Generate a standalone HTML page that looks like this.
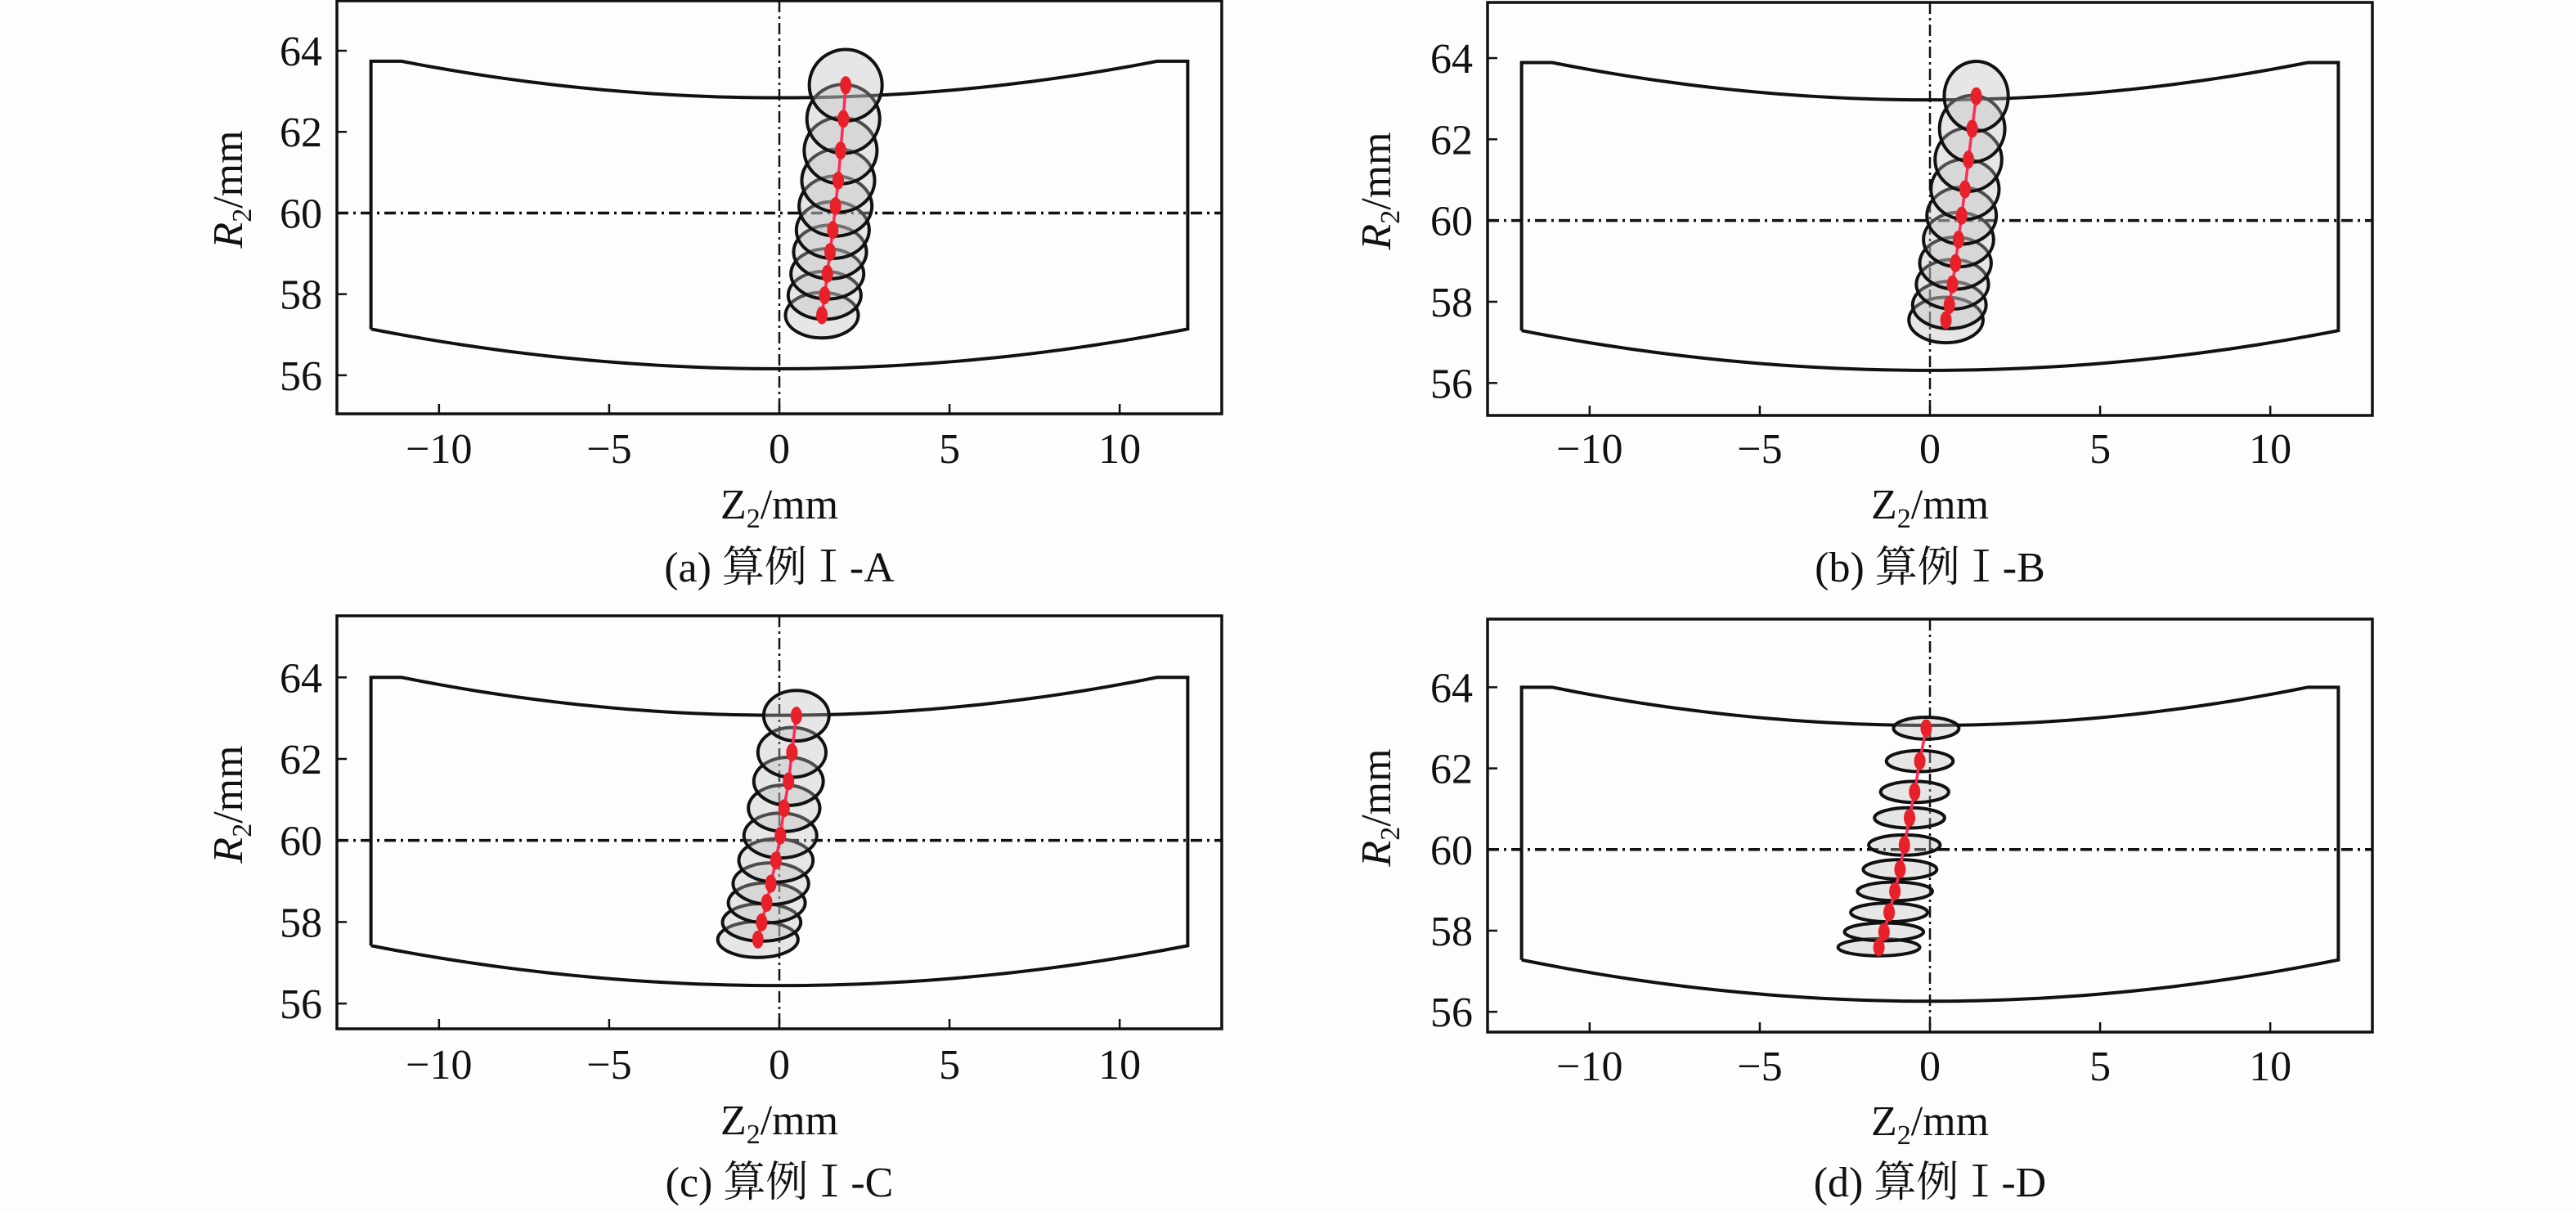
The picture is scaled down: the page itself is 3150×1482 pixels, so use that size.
<!DOCTYPE html>
<html><head><meta charset="utf-8">
<style>
html,body{margin:0;padding:0;background:#fdfdfd;}
svg{display:block;}
text{font-family:"Liberation Serif","Noto Serif CJK SC",serif;fill:#111;}
</style></head>
<body>
<svg id="fig" width="3150" height="1482" viewBox="0 0 3150 1482" xmlns="http://www.w3.org/2000/svg">
<rect width="3150" height="1482" fill="#fdfdfd"/>
</svg>
<script>
// ---- data (per panel) ----
const xTicks = [-10, -5, 0, 5, 10];
const xTickLabels = ["\u221210", "\u22125", "0", "5", "10"];
const yTicks = [56, 58, 60, 62, 64];
const yTickLabels = ["56", "58", "60", "62", "64"];
const captions = ["(a) 算例Ⅰ-A", "(b) 算例Ⅰ-B", "(c) 算例Ⅰ-C", "(d) 算例Ⅰ-D"];

const centersZ_a = [1.95, 1.88, 1.80, 1.73, 1.65, 1.57, 1.49, 1.41, 1.33, 1.25];
const centersR_a = [63.15, 62.32, 61.54, 60.80, 60.17, 59.58, 59.04, 58.50, 57.97, 57.48];
const rx_a = [1.07, 1.07, 1.07, 1.07, 1.07, 1.07, 1.07, 1.07, 1.07, 1.07];
const ry_a = [0.88, 0.85, 0.82, 0.78, 0.74, 0.70, 0.66, 0.62, 0.59, 0.56];

const centersZ_b = [1.36, 1.24, 1.13, 1.03, 0.93, 0.84, 0.75, 0.66, 0.57, 0.47];
const centersR_b = [63.06, 62.26, 61.50, 60.77, 60.12, 59.53, 58.95, 58.43, 57.92, 57.55];
const rx_b = [0.94, 0.96, 0.98, 1.00, 1.02, 1.03, 1.05, 1.06, 1.08, 1.09];
const ry_b = [0.86, 0.82, 0.78, 0.74, 0.70, 0.67, 0.64, 0.61, 0.58, 0.56];

const centersZ_c = [0.50, 0.37, 0.27, 0.14, 0.03, -0.10, -0.25, -0.37, -0.52, -0.63];
const centersR_c = [63.06, 62.16, 61.45, 60.79, 60.12, 59.51, 58.94, 58.47, 57.99, 57.57];
const rx_c = [0.96, 1.00, 1.02, 1.05, 1.07, 1.09, 1.11, 1.13, 1.15, 1.18];
const ry_c = [0.62, 0.61, 0.59, 0.57, 0.55, 0.53, 0.51, 0.49, 0.46, 0.44];

const centersZ_d = [-0.11, -0.30, -0.45, -0.60, -0.75, -0.88, -1.03, -1.20, -1.35, -1.50];
const centersR_d = [62.99, 62.18, 61.42, 60.78, 60.11, 59.51, 58.97, 58.45, 57.97, 57.59];
const rx_d = [0.96, 0.98, 1.00, 1.03, 1.05, 1.08, 1.10, 1.13, 1.16, 1.20];
const ry_d = [0.27, 0.26, 0.26, 0.25, 0.25, 0.24, 0.23, 0.23, 0.22, 0.21];

// outline: [topCornerR, topMinR, bottomCornerR, bottomMinR]
const outline_a = [63.74, 62.84, 57.14, 56.16];
const outline_b = [63.89, 62.97, 57.29, 56.31];
const outline_c = [64.00, 63.07, 57.42, 56.44];
const outline_d = [64.00, 63.06, 57.28, 56.26];
const outlineEdgeZ = 12.0;
const outlineFlatZ = 11.1;

// ---- layout ----
const panels = [
  {id:'a', box:[412,1,1494,506], yr:[55.05,65.23], zc:centersZ_a, rc:centersR_a, rx:rx_a, ry:ry_a, ol:outline_a, tickLblY:548, xlblY:616, capY:693, ylblX:278},
  {id:'b', box:[1819,3,2901,508], yr:[55.20,65.37], zc:centersZ_b, rc:centersR_b, rx:rx_b, ry:ry_b, ol:outline_b, tickLblY:548, xlblY:616, capY:693, ylblX:1682},
  {id:'c', box:[412,753,1494,1258], yr:[55.38,65.51], zc:centersZ_c, rc:centersR_c, rx:rx_c, ry:ry_c, ol:outline_c, tickLblY:1301, xlblY:1369, capY:1445, ylblX:278},
  {id:'d', box:[1819,757,2901,1262], yr:[55.50,65.68], zc:centersZ_d, rc:centersR_d, rx:rx_d, ry:ry_d, ol:outline_d, tickLblY:1303, xlblY:1370, capY:1445, ylblX:1682}
];
const NS = 'http://www.w3.org/2000/svg';
const svg = document.getElementById('fig');
function mk(tag, attrs, parent){
  const e = document.createElementNS(NS, tag);
  for (const k in attrs) e.setAttribute(k, attrs[k]);
  parent.appendChild(e); return e;
}
const FS = 52;
panels.forEach(p => {
  const [x0,y0,x1,y1] = p.box;
  const sx = z => x0 + (z + 13) / 26 * (x1 - x0);
  const sy = r => y1 - (r - p.yr[0]) / (p.yr[1] - p.yr[0]) * (y1 - y0);
  const g = mk('g', {}, svg);
  
  
  const frame = mk('rect', {x:x0, y:y0, width:x1-x0, height:y1-y0, fill:'#fdfdfd', stroke:'#111', 'stroke-width':3.5}, g);
  
  
  const vl = mk('line', {x1:sx(0), x2:sx(0), y1:y0, y2:y1, stroke:'#111', 'stroke-width':2.5, 'stroke-dasharray':'14 5 3 5'}, g);
  
  
  const hl = mk('line', {x1:x0, x2:x1, y1:sy(60), y2:sy(60), stroke:'#111', 'stroke-width':3.5, 'stroke-dasharray':'14 6 3 6'}, g);
  
  
  const [tc, tm, bc, bm] = p.ol;
  let d = `M${sx(-outlineEdgeZ)},${sy(bc)} L${sx(-outlineEdgeZ)},${sy(tc)} L${sx(-outlineFlatZ)},${sy(tc)}`;
  for (let i = 0; i <= 60; i++) {
    const z = -outlineFlatZ + i * (2 * outlineFlatZ / 60);
    d += ` L${sx(z)},${sy(tm + (tc - tm) * Math.pow(z / outlineFlatZ, 2))}`;
  }
  d += ` L${sx(outlineEdgeZ)},${sy(tc)} L${sx(outlineEdgeZ)},${sy(bc)}`;
  for (let i = 0; i <= 60; i++) {
    const z = outlineEdgeZ - i * (2 * outlineEdgeZ / 60);
    d += ` L${sx(z)},${sy(bm + (bc - bm) * Math.pow(z / outlineEdgeZ, 2))}`;
  }
  const ol = mk('path', {d:d, fill:'none', stroke:'#111', 'stroke-width':4}, g);
  
  
  const ppx = (x1 - x0) / 26, ppy = (y1 - y0) / (p.yr[1] - p.yr[0]);
  for (let i = p.zc.length - 1; i >= 0; i--) {
    const e = mk('ellipse', {cx:sx(p.zc[i]), cy:sy(p.rc[i]), rx:p.rx[i]*ppx, ry:p.ry[i]*ppy, fill:'rgba(185,185,185,0.35)', stroke:'#111', 'stroke-width':4}, g);
    
    
  }
  const pts = p.zc.map((z, i) => sx(z) + ',' + sy(p.rc[i])).join(' ');
  const pl = mk('polyline', {points:pts, fill:'none', stroke:'#ff2a55', 'stroke-width':3.5}, g);
  
  
  p.zc.forEach((z, i) => {
    const c = mk('ellipse', {cx:sx(z), cy:sy(p.rc[i]), rx:7, ry:11, fill:'#e8202a'}, g);
    
    
  });
  xTicks.forEach((t, i) => {
    const tk = mk('line', {x1:sx(t), x2:sx(t), y1:y1, y2:y1-12, stroke:'#111', 'stroke-width':2.5}, g);
    
    
    const tl = mk('text', {x:sx(t), y:p.tickLblY + 18, 'font-size':FS, 'text-anchor':'middle'}, g);
    tl.textContent = xTickLabels[i];
    
    
  });
  yTicks.forEach((t, i) => {
    const tk = mk('line', {x1:x0, x2:x0+12, y1:sy(t), y2:sy(t), stroke:'#111', 'stroke-width':2.5}, g);
    
    
    const tl = mk('text', {x:x0 - 18, y:sy(t) + 18, 'font-size':FS, 'text-anchor':'end'}, g);
    tl.textContent = yTickLabels[i];
    
    
  });
  const xl = mk('text', {x:(x0+x1)/2, y:p.xlblY + 18, 'font-size':FS, 'text-anchor':'middle'}, g);
  xl.innerHTML = 'Z<tspan font-size="34" dy="11">2</tspan><tspan dy="-11">/mm</tspan>';
  
  
  const ycy = (y0 + y1) / 2 - 22;
  const yl = mk('text', {x:p.ylblX, y:ycy, 'font-size':FS, 'text-anchor':'middle', transform:`rotate(-90 ${p.ylblX} ${ycy}) translate(0 18)`}, g);
  yl.innerHTML = '<tspan font-style="italic">R</tspan><tspan font-size="34" dy="11">2</tspan><tspan dy="-11">/mm</tspan>';
  
  
  const cp = mk('text', {x:(x0+x1)/2, y:p.capY + 18, 'font-size':FS, 'text-anchor':'middle'}, g);
  cp.textContent = captions['abcd'.indexOf(p.id)];
  
  
});
</script>
</body></html>
